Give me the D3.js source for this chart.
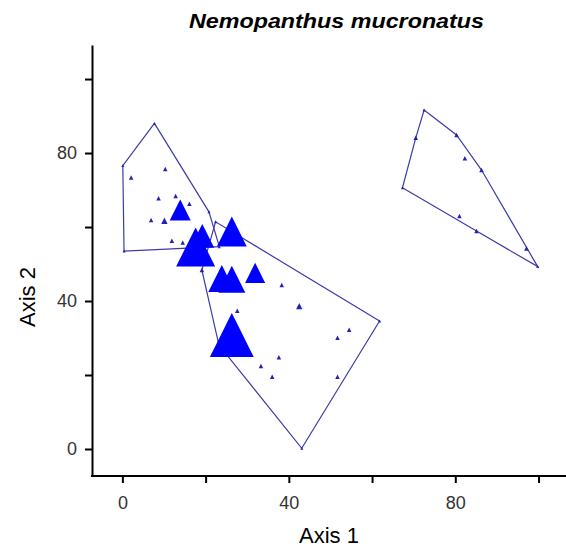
<!DOCTYPE html>
<html>
<head>
<meta charset="utf-8">
<script src="https://cdn.jsdelivr.net/npm/d3@7"></script>
<style>
  body { margin: 0; background: #fff; }
  svg { display: block; }
  text { font-family: "Liberation Sans", Arial, sans-serif; }
</style>
</head>
<body>
<svg id="chart" width="566" height="554"></svg>
<script>
// Ordination of sample units, triangles sized by species abundance,
// convex hulls drawn around each group of sample units.
const chartTitle = "Nemopanthus mucronatus";
const axis1Title = "Axis 1";
const axis2Title = "Axis 2";
const axisTicks = [0, 20, 40, 60, 80, 100];
const labelledTicks = [0, 40, 80];

// Scores on axis 1
const axis1Scores = [
  7.7, 0.1, 0.4, 20.8, 23.3, 10.3, 2.1, 8.7, 12.8, 16.1, 6.9, 10.1, 11.9, 14.5, 13.9,
  17.6, 19.2, 26.3,
  22.4, 61.8, 43.1, 23.2, 19.1, 38.3, 42.5, 27.6, 54.5, 51.7, 37.6, 33.3, 36.0, 51.7, 23.9, 26.3, 31.9, 26.3,
  72.5, 70.5, 80.3, 82.3, 86.3, 67.3, 81.0, 85.1, 97.1, 99.8
];
// Scores on axis 2
const axis2Scores = [
  88.0, 76.6, 53.5, 64.1, 54.7, 75.7, 73.4, 67.8, 68.4, 66.3, 61.9, 61.7, 56.3, 55.8, 64.6,
  54.6, 57.6, 58.8,
  61.4, 34.6, 0.2, 28.1, 48.4, 44.3, 38.6, 37.4, 32.2, 30.1, 24.8, 22.4, 19.5, 19.5, 46.1, 45.9, 47.6, 30.8,
  91.6, 84.1, 84.9, 78.6, 75.4, 70.6, 63.0, 58.9, 54.2, 49.3
];
// Abundance of the species in each sample unit
const abundance = [
  0, 0, 0, 0, 0, 1, 1, 1, 1, 1, 1, 2, 1, 1, 22,
  75, 28, 44,
  0, 0, 0, 0, 1, 1, 2, 1, 1, 1, 1, 1, 1, 1, 36, 36, 20, 95,
  0, 1, 1, 1, 1, 0, 1, 1, 1, 0
];
// Group of each sample unit (0 = not enclosed by a hull)
const groupOf = [
  1, 1, 1, 1, 1, 1, 1, 1, 1, 1, 1, 1, 1, 1, 1,
  0, 0, 0,
  2, 2, 2, 2, 2, 2, 2, 2, 2, 2, 2, 2, 2, 2, 2, 2, 2, 2,
  3, 3, 3, 3, 3, 3, 3, 3, 3, 3
];
const hullGroups = [1, 2, 3];

const svg = d3.select("#chart");
const W = 566, H = 554;
svg.append("rect").attr("width", W).attr("height", H).attr("fill", "#fff");

const x = d3.scaleLinear().domain([-7.3, 106.6]).range([92, 566]);
const y = d3.scaleLinear().domain([-7.3, 109.2]).range([476, 45]);
const side = d3.scaleSqrt().domain([0, 100]).range([0, 45]);

const points = axis1Scores.map((a1, i) => ({
  a1, a2: axis2Scores[i], v: abundance[i], g: groupOf[i]
}));

// Convex hulls around the groups
const hullColor = "#3c3ca8";
hullGroups.forEach(g => {
  const pts = points.filter(p => p.g === g).map(p => [x(p.a1), y(p.a2)]);
  const hull = d3.polygonHull(pts);
  svg.append("path")
    .attr("d", "M" + hull.join("L") + "Z")
    .attr("fill", "none")
    .attr("stroke", hullColor)
    .attr("stroke-width", 1.2);
});

// Triangles, smallest first so the large ones sit on top
const tri = s => `M0,${-s / 2}L${s / 2},${s / 2}L${-s / 2},${s / 2}Z`;
svg.append("g").selectAll("path")
  .data(points.slice().sort((a, b) => a.v - b.v))
  .join("path")
  .attr("transform", d => `translate(${x(d.a1)},${y(d.a2)})`)
  .attr("d", d => tri(Math.max(3, side(d.v))))
  .attr("fill", d => side(d.v) < 8 ? "#2222b0" : "#0000ff");

// Axes
const fmt = d => labelledTicks.includes(d) ? d : "";
const gx = svg.append("g").attr("transform", `translate(0,${y.range()[0]})`)
  .call(d3.axisBottom(x).tickValues(axisTicks).tickFormat(fmt).tickSize(7).tickSizeOuter(0).tickPadding(13));
const gy = svg.append("g").attr("transform", `translate(${x.range()[0]},0)`)
  .call(d3.axisLeft(y).tickValues(axisTicks).tickFormat(fmt).tickSize(7).tickSizeOuter(0).tickPadding(8));
[gx, gy].forEach(g => {
  g.select(".domain").attr("stroke", "#000").attr("stroke-width", 2);
  g.selectAll(".tick line").attr("stroke", "#000").attr("stroke-width", 2);
  g.selectAll(".tick text").attr("fill", "#333").style("font-size", "18px")
    .style("font-family", "'Liberation Sans', Arial, sans-serif");
});
// join the two axis lines at the corner
gx.select(".domain").attr("d", `M${x.range()[0] - 1},0H${x.range()[1]}`);

// Titles
svg.append("text")
  .attr("x", 336.5).attr("y", 27.5)
  .attr("text-anchor", "middle")
  .attr("textLength", 295).attr("lengthAdjust", "spacingAndGlyphs")
  .style("font-size", "21px").style("font-weight", "bold").style("font-style", "italic")
  .attr("fill", "#000")
  .text(chartTitle);

svg.append("text")
  .attr("x", 329).attr("y", 543)
  .attr("text-anchor", "middle")
  .style("font-size", "22px").attr("fill", "#000")
  .text(axis1Title);

svg.append("text")
  .attr("transform", "translate(35,297) rotate(-90)")
  .attr("text-anchor", "middle")
  .style("font-size", "22px").attr("fill", "#000")
  .text(axis2Title);
</script>
</body>
</html>
